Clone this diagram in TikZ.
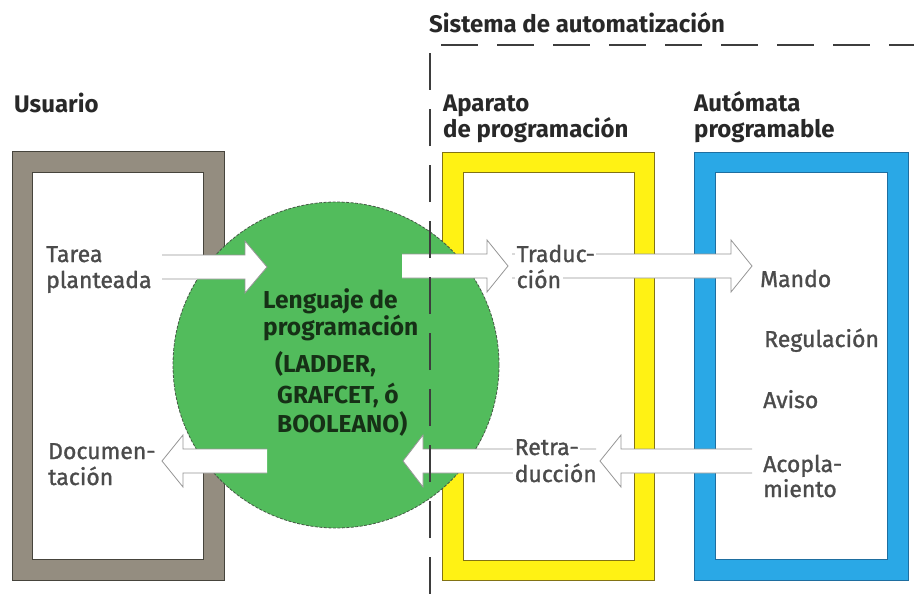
\documentclass[tikz,border=0pt]{standalone}
\usepackage{fontspec}
\setmainfont{Fira Sans}
\newfontfamily\labfont{Fira Sans}[FakeBold=1.2]
\usetikzlibrary{calc}
\definecolor{boxgray}{RGB}{148,141,128}
\definecolor{boxyellow}{RGB}{255,242,20}
\definecolor{boxblue}{RGB}{42,168,230}
\definecolor{langgreen}{RGB}{82,188,92}
\definecolor{headc}{RGB}{40,40,40}
\definecolor{labc}{RGB}{75,75,75}
\definecolor{circc}{RGB}{22,48,22}
\definecolor{grayedge}{RGB}{70,68,60}
\definecolor{yedge}{RGB}{130,115,20}
\definecolor{bedge}{RGB}{30,110,160}
\definecolor{arrc}{RGB}{150,150,150}
\newcommand\blockarrow[3]{%
  \fill[white] ($(#1)+(0,-12)$) -- ($(#2)+(#3,-12)$) -- ($(#2)+(#3,-26)$) -- (#2)
     -- ($(#2)+(#3,26)$) -- ($(#2)+(#3,12)$) -- ($(#1)+(0,12)$) -- cycle;
  \draw[arrline] ($(#1)+(0,-12)$) -- ($(#2)+(#3,-12)$) -- ($(#2)+(#3,-26)$) -- (#2)
     -- ($(#2)+(#3,26)$) -- ($(#2)+(#3,12)$) -- ($(#1)+(0,12)$);}
\begin{document}
\begin{tikzpicture}[x=1pt,y=-1pt,
  head/.style={anchor=base west, font=\fontsize{24}{28}\selectfont\bfseries, text=headc, inner sep=0pt},
  lab/.style={anchor=base west, font=\fontsize{23}{27}\labfont\selectfont, text=labc, inner sep=0pt},
  labw/.style={lab, fill=white, inner sep=1.5pt},
  circtext/.style={anchor=base west, font=\fontsize{24.5}{28}\selectfont\bfseries, text=circc, inner sep=0pt},
  edge/.style={line width=0.8pt},
  arrline/.style={draw=arrc, line width=0.8pt, line join=miter},
  dashline/.style={draw=headc!90, line width=1.8pt, dash pattern=on 37pt off 19pt}]
\useasboundingbox (0,0) rectangle (914,594);
\fill[white] (0,0) rectangle (914,594);

% frames
\fill[boxgray, even odd rule] (12,151) rectangle (224,580) (32,172) rectangle (203,559);
\draw[edge, grayedge] (12,151) rectangle (224,580);
\draw[edge, grayedge] (32,172) rectangle (203,559);

\fill[boxyellow, even odd rule] (442,152) rectangle (654,580) (463,172) rectangle (634,560);
\draw[edge, yedge] (442,152) rectangle (654,580);
\draw[edge, yedge] (463,172) rectangle (634,560);

\fill[boxblue, even odd rule] (694,152) rectangle (908,580) (715,172) rectangle (887,559);
\draw[edge, bedge] (694,152) rectangle (908,580);
\draw[edge, bedge] (715,172) rectangle (887,559);

% language circle
\node[circle, minimum size=326pt, inner sep=0pt, fill=langgreen,
      draw=circc!80, line width=0.8pt, dash pattern=on 3pt off 1.5pt] (lang) at (336,365) {};

% arrow end points
\coordinate (tareaT) at (162,267);
\coordinate (tareaH) at (267,267);
\coordinate (tradT) at (402,266);
\coordinate (tradH) at (508,266);
\coordinate (mandoT) at (512,266);
\coordinate (mandoH) at (752,266);
\coordinate (acopT) at (752,461);
\coordinate (acopH) at (600,461);
\coordinate (retrT) at (596,461);
\coordinate (retrH) at (403,461);
\coordinate (docT) at (267,461);
\coordinate (docH) at (162,461);

\blockarrow{tareaT}{tareaH}{-22}
\blockarrow{tradT}{tradH}{-21}
\blockarrow{mandoT}{mandoH}{-21}
\blockarrow{acopT}{acopH}{21}
\blockarrow{retrT}{retrH}{20}
\blockarrow{docT}{docH}{21}

% dashed system frame
\coordinate (frA) at (430,594);
\coordinate (frB) at (430,45);
\coordinate (frC) at (914,45);
\draw[dashline] (frA) -- (frB) -- (frC);

% headings
\node[head] (sis) at (429,33) {Sistema de automatización};
\node[head] (usu) at (14,113) {Usuario};
\node[head] (apa1) at (443,112) {Aparato};
\node[head] (apa2) at (443,137) {de programación};
\node[head] (aut1) at (694,112) {Autómata};
\node[head] (aut2) at (694,137) {programable};

% labels
\node[lab] (tar1) at (46,262) {Tarea};
\node[lab] (tar2) at (46,288) {planteada};
\node[lab] (doc1) at (48,459) {Documen-};
\node[lab] (doc2) at (48,485) {tación};
\node[labw] (tra1) at (515,262) {Traduc-};
\node[labw] (tra2) at (515,288) {ción};
\node[labw] (ret1) at (513,455) {Retra-};
\node[labw] (ret2) at (513,482) {ducción};
\node[lab] (man) at (760,287) {Mando};
\node[lab] (reg) at (764,347) {Regulación};
\node[lab] (avi) at (763,408) {Aviso};
\node[lab] (aco1) at (763,472) {Acopla-};
\node[lab] (aco2) at (763,497) {miento};

% circle text
\node[circtext] (l1) at (263,308) {Lenguaje de};
\node[circtext] (l2) at (263,335) {programación};
\node[circtext] (l3) at (275,372) {(LADDER,};
\node[circtext] (l4) at (277,403) {GRAFCET, ó};
\node[circtext] (l5) at (277,432) {BOOLEANO)};
\end{tikzpicture}
\end{document}
